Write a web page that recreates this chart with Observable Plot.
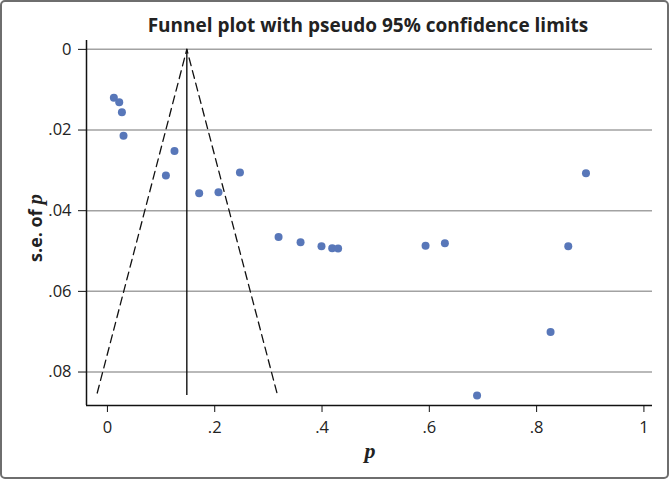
<!DOCTYPE html>
<html><head><meta charset="utf-8">
<script src="https://cdn.jsdelivr.net/npm/d3@7"></script>
<script src="https://cdn.jsdelivr.net/npm/@observablehq/plot@0.6"></script>
<style>
html,body{margin:0;padding:0;background:#fff;}
#wrap{position:relative;width:669px;height:479px;overflow:hidden;}
#chart{position:absolute;left:0;top:0;}
#frame{position:absolute;left:0;top:0;width:669px;height:479px;box-sizing:border-box;border:2px solid #6e6e6e;border-radius:5px;pointer-events:none;}
</style></head><body><div id="wrap"><div id="chart"></div><div id="frame"></div></div>
<script>
// study estimates (proportion p) and their standard errors
const pValues  = [0.012, 0.022, 0.027, 0.030, 0.125, 0.109, 0.171, 0.207, 0.247, 0.319, 0.360, 0.399, 0.419, 0.430, 0.593, 0.629, 0.892, 0.859, 0.826, 0.689];
const seValues = [0.0120, 0.0131, 0.0156, 0.0214, 0.0252, 0.0313, 0.0357, 0.0354, 0.0305, 0.0465, 0.0478, 0.0488, 0.0493, 0.0494, 0.0487, 0.0481, 0.0307, 0.0488, 0.0701, 0.0858];
// pooled estimate and pseudo 95% limits
const pooledP = 0.148;
const pooledSeRange = [0, 0.0858];
const funnelP  = [-0.019, 0.148, 0.316];
const funnelSE = [0.0852, 0, 0.0852];
const xTicks = [0, 0.2, 0.4, 0.6, 0.8, 1];
const yTicks = [0, 0.02, 0.04, 0.06, 0.08];
const xDomain = [-0.039, 1.016];
const yDomain = [-0.0022, 0.0883];
const titleText = "Funnel plot with pseudo 95% confidence limits";
const yLabelMain = "s.e. of ";
const axisVar = "p";

const studies = pValues.map((p, i) => ({p, se: seValues[i]}));
const funnel = funnelP.map((p, i) => ({p, se: funnelSE[i]}));
const fmt = d => d === 0 ? "0" : String(d).replace(/^0/, "");
const font = "'Open Sans', sans-serif";

const chart = Plot.plot({
  width: 669, height: 479,
  marginLeft: 86, marginRight: 17, marginTop: 40, marginBottom: 74,
  style: {fontFamily: font, fontSize: "16.5px", background: "white", color: "#222"},
  x: {domain: xDomain, range: [86, 652]},
  y: {domain: yDomain, range: [40, 405]},
  marks: [
    Plot.gridY(yTicks, {stroke: "#a2a2a2", strokeOpacity: 1, strokeWidth: 1.5}),
    Plot.ruleX([pooledP], {y1: pooledSeRange[0], y2: pooledSeRange[1], stroke: "#111", strokeWidth: 1.4}),
    Plot.line(funnel, {x: "p", y: "se", stroke: "#111", strokeWidth: 1.3, strokeDasharray: "8,5"}),
    Plot.dot(studies, {x: "p", y: "se", r: 4, fill: "#5877b9", stroke: "none"}),
    Plot.ruleX([xDomain[0]], {stroke: "#111", strokeWidth: 1.5}),
    Plot.ruleY([yDomain[1]], {stroke: "#111", strokeWidth: 1.5}),
    Plot.axisY(yTicks, {tickSize: 8, tickPadding: 7, tickFormat: fmt, stroke: "#111", label: null}),
    Plot.axisX(xTicks, {tickSize: 7, tickPadding: 9, tickFormat: fmt, stroke: "#111", label: null})
  ]
});
document.getElementById("chart").appendChild(chart);

const svg = d3.select(chart);
svg.selectAll('g[aria-label$="tick label"]').style("font-size", "16.5px").style("font-family", font);
svg.selectAll('g[aria-label$="tick label"] text').style("font-size", "16.5px").style("fill", "#222");

svg.append("text")
  .attr("x", 368).attr("y", 32)
  .attr("text-anchor", "middle")
  .attr("font-family", font).attr("font-weight", "bold").attr("font-size", 19)
  .attr("fill", "#222")
  .text(titleText);

const yl = svg.append("text")
  .attr("transform", "translate(42,228) rotate(-90)")
  .attr("text-anchor", "middle")
  .attr("font-family", font).attr("font-weight", "bold").attr("font-size", 18)
  .attr("fill", "#222");
yl.append("tspan").text(yLabelMain);
yl.append("tspan").attr("font-family", "'Liberation Serif', serif").attr("font-style", "italic").attr("font-size", 21).text(axisVar);

svg.append("text")
  .attr("x", 370).attr("y", 458)
  .attr("text-anchor", "middle")
  .attr("font-family", "'Liberation Serif', serif").attr("font-style", "italic").attr("font-weight", "bold").attr("font-size", 22)
  .attr("fill", "#222")
  .text(axisVar);
</script></body></html>
